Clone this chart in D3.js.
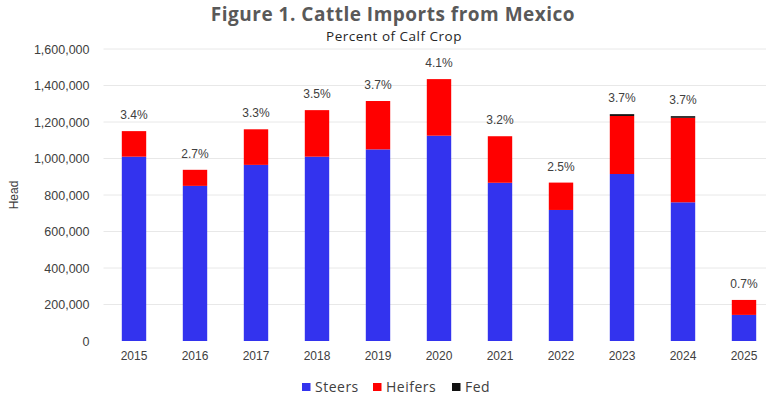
<!DOCTYPE html>
<html>
<head>
<meta charset="utf-8">
<script src="https://cdn.jsdelivr.net/npm/d3@7"></script>
<style>
  html, body { margin: 0; padding: 0; background: #fff; }
  svg { display: block; }
</style>
</head>
<body>
<svg id="chart" width="766" height="398"></svg>
<script>
// Cattle imports from Mexico by class (head), with share of US calf crop
const years   = ["2015","2016","2017","2018","2019","2020","2021","2022","2023","2024","2025"];
const steers  = [1010000, 850000, 965000, 1010000, 1050000, 1125000, 867000, 718000, 915000, 760000, 143000];
const heifers = [140000, 88000, 195000, 255000, 265000, 310000, 255000, 150000, 318000, 463000, 82000];
const fed     = [0, 0, 0, 0, 0, 0, 0, 0, 10000, 9000, 0];
const pctLabels = ["3.4%","2.7%","3.3%","3.5%","3.7%","4.1%","3.2%","2.5%","3.7%","3.7%","0.7%"];
const yTicks  = [0, 200000, 400000, 600000, 800000, 1000000, 1200000, 1400000, 1600000];

const seriesNames  = ["Steers", "Heifers", "Fed"];
const seriesColors = ["#3333ee", "#ff0000", "#111111"];

const rows = years.map((y, i) => ({ year: y, Steers: steers[i], Heifers: heifers[i], Fed: fed[i], pct: pctLabels[i] }));

const svg = d3.select("#chart");
const margin = { left: 103.5, right: 774.5, top: 49, bottom: 341 };

const x = d3.scaleBand().domain(years).range([margin.left, margin.right])
  .paddingInner(0.6).paddingOuter(0.3);
const y = d3.scaleLinear().domain([0, 1600000]).range([margin.bottom, margin.top]);

const tickFont = "'Liberation Sans', Arial, sans-serif";
const headFont = "'Open Sans', 'Noto Sans', sans-serif";

// Title and subtitle
svg.append("text").attr("x", 393).attr("y", 21).attr("text-anchor", "middle")
  .attr("font-family", headFont).attr("font-weight", "bold")
  .attr("font-size", 19).attr("letter-spacing", 0.5).attr("fill", "#595959")
  .text("Figure 1. Cattle Imports from Mexico");
svg.append("text").attr("x", 394).attr("y", 40.5).attr("text-anchor", "middle")
  .attr("font-family", headFont)
  .attr("font-size", 13.5).attr("letter-spacing", 0.5).attr("fill", "#262626")
  .text("Percent of Calf Crop");

// Horizontal gridlines
svg.append("g").selectAll("line").data(yTicks.filter(d => d > 0)).join("line")
  .attr("x1", margin.left).attr("x2", 766)
  .attr("y1", d => y(d)).attr("y2", d => y(d))
  .attr("stroke", "#e8e8e8").attr("stroke-width", 1);

// Y axis
const yAxis = svg.append("g").attr("transform", `translate(${margin.left - 8},0)`)
  .call(d3.axisLeft(y).tickValues(yTicks).tickFormat(d3.format(",")).tickSize(0).tickPadding(6));
yAxis.select(".domain").remove();
yAxis.selectAll("text").attr("font-family", tickFont).attr("font-size", 12.5).attr("fill", "#404040");

svg.append("text").attr("transform", "translate(18,195) rotate(-90)").attr("text-anchor", "middle")
  .attr("font-family", tickFont).attr("font-size", 12).attr("fill", "#404040").text("Head");

// X axis
const xAxis = svg.append("g").attr("transform", `translate(0,${margin.bottom})`)
  .call(d3.axisBottom(x).tickSize(0).tickPadding(10));
xAxis.select(".domain").remove();
xAxis.selectAll("text").attr("font-family", tickFont).attr("font-size", 12).attr("fill", "#404040");

// Stacked bars
const stacked = d3.stack().keys(seriesNames)(rows);
svg.append("g").selectAll("g").data(stacked).join("g")
  .attr("fill", (d, i) => seriesColors[i])
  .selectAll("rect").data(d => d).join("rect")
  .attr("x", d => x(d.data.year))
  .attr("width", x.bandwidth())
  .attr("y", d => y(d[1]))
  .attr("height", d => Math.max(0, y(d[0]) - y(d[1])));

// Percent-of-calf-crop labels above each bar
svg.append("g").selectAll("text").data(rows).join("text")
  .attr("x", d => x(d.year) + x.bandwidth() / 2)
  .attr("y", d => y(d.Steers + d.Heifers + d.Fed) - 12)
  .attr("text-anchor", "middle")
  .attr("font-family", tickFont).attr("font-size", 12).attr("fill", "#404040")
  .text(d => d.pct);

// Legend
const legendX = [302, 373, 452];
const legend = svg.append("g").selectAll("g").data(seriesNames).join("g")
  .attr("transform", (d, i) => `translate(${legendX[i]},392)`);
legend.append("rect").attr("x", 0).attr("y", -9).attr("width", 8.5).attr("height", 8)
  .attr("fill", (d, i) => seriesColors[i]);
legend.append("text").attr("x", 13).attr("y", 0)
  .attr("font-family", headFont).attr("font-size", 14).attr("letter-spacing", 0.5).attr("fill", "#404040")
  .text(d => d);
</script>
</body>
</html>
